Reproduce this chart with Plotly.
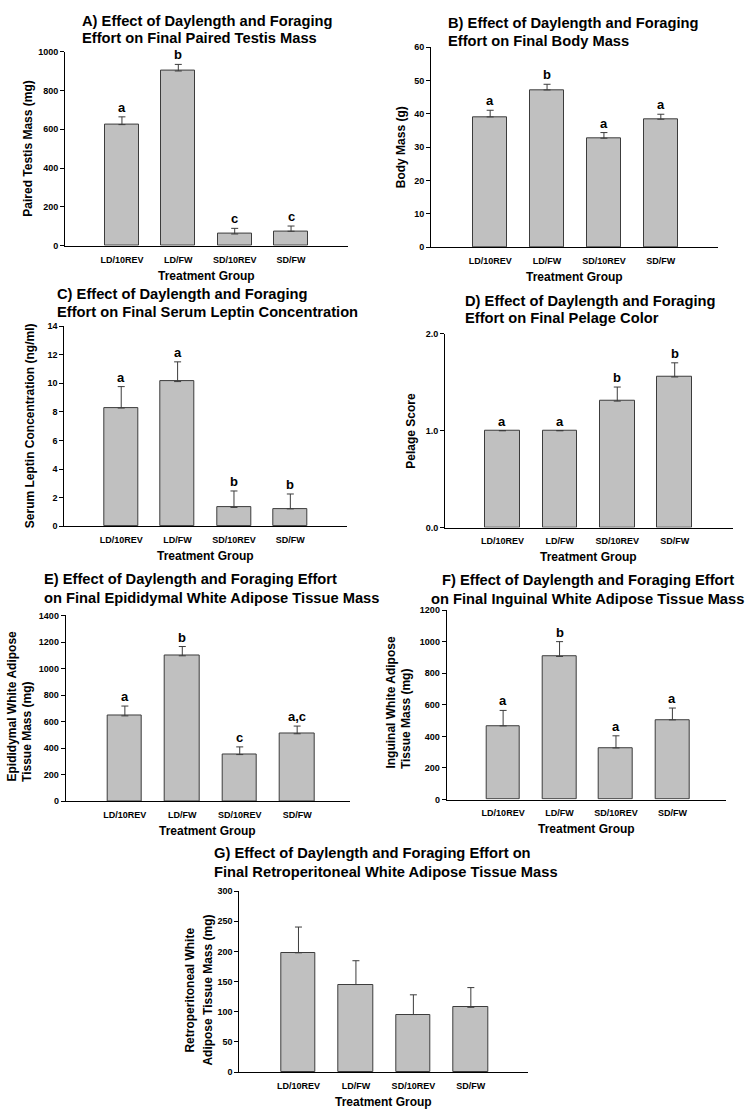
import plotly.graph_objects as go

# ---------------- data ----------------
groups = ["LD/10REV", "LD/FW", "SD/10REV", "SD/FW"]

testis_mean = [624, 900, 61, 75]
testis_sem = [40, 34, 29, 27]
testis_letters = ["a", "b", "c", "c"]

body_mean = [39.1, 47.2, 32.7, 38.4]
body_sem = [2.0, 1.7, 1.7, 1.5]
body_letters = ["a", "b", "a", "a"]

leptin_mean = [8.27, 10.12, 1.32, 1.22]
leptin_sem = [1.50, 1.38, 1.15, 1.04]
leptin_letters = ["a", "a", "b", "b"]

pelage_mean = [1.0, 1.0, 1.305, 1.554]
pelage_sem = [0.0, 0.0, 0.145, 0.146]
pelage_letters = ["a", "a", "b", "b"]

epi_mean = [643, 1096, 351, 508]
epi_sem = [74, 70, 58, 58]
epi_letters = ["a", "b", "c", "a,c"]

ing_mean = [467, 907, 327, 505]
ing_sem = [98, 94, 77, 75]
ing_letters = ["a", "b", "a", "a"]

retro_mean = [197.6, 145.0, 95.3, 107.3]
retro_sem = [42.7, 39.5, 32.7, 32.7]
retro_letters = ["", "", "", ""]

# ---------------- layout helpers ----------------
W, H = 753, 1119
FONT = "Liberation Sans, Arial, sans-serif"
BAR_FILL = "#c0c0c0"
EDGE = "#3c3c3c"
TITLE_SIZE = 14.7


def px(x):
    return x / W


def py(y):
    return 1 - y / H


# ytitle placement: (x centre of each line, y reference, anchor)
panels = [
    dict(mean=testis_mean, sem=testis_sem, letters=testis_letters,
         title=["A) Effect of Daylength and Foraging", "Effort on Final Paired Testis Mass"],
         tx=80, ty=[16, 33], talign="left",
         ytitle=["Paired Testis Mass (mg)"], ytx=[28], yty=None, ytanchor="middle",
         x0=65, x1=348, ytop=47, ybot=243, xr=[-1.01, 4.01], yr=[0, 1000], dtick=200, fmt=None),
    dict(mean=body_mean, sem=body_sem, letters=body_letters,
         title=["B) Effect of Daylength and Foraging", "Effort on Final Body Mass"],
         tx=446, ty=[18.3, 36], talign="left",
         ytitle=["Body Mass (g)"], ytx=[401], yty=None, ytanchor="middle",
         x0=431, x1=717.7, ytop=42.7, ybot=244.3, xr=[-1.04, 4.0], yr=[0, 60], dtick=10, fmt=None),
    dict(mean=leptin_mean, sem=leptin_sem, letters=leptin_letters,
         title=["C) Effect of Daylength and Foraging", "Effort on Final Serum Leptin Concentration"],
         tx=55, ty=[291.7, 310], talign="left",
         ytitle=["Serum Leptin Concentration (ng/ml)"], ytx=[30], yty=None, ytanchor="middle",
         x0=64.3, x1=346.7, ytop=324, ybot=526, xr=[-1.01, 4.0], yr=[0, 14], dtick=2, fmt=None),
    dict(mean=pelage_mean, sem=pelage_sem, letters=pelage_letters,
         title=["D) Effect of Daylength and Foraging", "Effort on Final Pelage Color"],
         tx=462.7, ty=[298.3, 316], talign="left",
         ytitle=["Pelage Score"], ytx=[411], yty=None, ytanchor="middle",
         x0=445, x1=732.7, ytop=331.7, ybot=527.3, xr=[-1.0, 4.01], yr=[0, 2], dtick=1, fmt=".1f"),
    dict(mean=epi_mean, sem=epi_sem, letters=epi_letters,
         title=["E) Effect of Daylength and Foraging Effort", "on Final Epididymal White Adipose Tissue Mass"],
         tx=41.7, ty=[579.3, 598.3], talign="left",
         ytitle=["Epididymal White Adipose", "Tissue Mass (mg)"], ytx=[12, 27], yty=786, ytanchor="bottom",
         x0=65.7, x1=350, ytop=616, ybot=803.3, xr=[-1.03, 3.92], yr=[0, 1400], dtick=200, fmt=None),
    dict(mean=ing_mean, sem=ing_sem, letters=ing_letters,
         title=["F) Effect of Daylength and Foraging Effort", "on Final Inguinal White Adipose Tissue Mass"],
         tx=587.5, ty=[580, 599.3], talign="center",
         ytitle=["Inguinal White Adipose", "Tissue Mass (mg)"], ytx=[391, 406], yty=773, ytanchor="bottom",
         x0=446.7, x1=726, ytop=610.7, ybot=801.7, xr=[-1.0, 3.95], yr=[0, 1200], dtick=200, fmt=None),
    dict(mean=retro_mean, sem=retro_sem, letters=retro_letters,
         title=["G) Effect of Daylength and Foraging Effort on", "Final Retroperitoneal White Adipose Tissue Mass"],
         tx=211.7, ty=[856, 875], talign="left",
         ytitle=["Retroperitoneal White", "Adipose Tissue Mass (mg)"], ytx=[190.5, 208.5], yty=994, ytanchor="middle",
         x0=239.3, x1=528.3, ytop=894, ybot=1076.7, xr=[-1.03, 4.0], yr=[0, 300], dtick=50, fmt=None),
]

fig = go.Figure()
annotations = []
layout_axes = {}

for i, p in enumerate(panels):
    n = i + 1
    xa = "x" if n == 1 else f"x{n}"
    ya = "y" if n == 1 else f"y{n}"
    xkey = "xaxis" if n == 1 else f"xaxis{n}"
    ykey = "yaxis" if n == 1 else f"yaxis{n}"
    xs = list(range(len(groups)))

    fig.add_trace(go.Bar(
        x=xs, y=p["mean"], xaxis=xa, yaxis=ya, width=0.6,
        marker=dict(color=BAR_FILL, line=dict(color=EDGE, width=1)),
        error_y=dict(type="data", symmetric=False, array=p["sem"],
                     arrayminus=[0] * len(xs), color=EDGE, thickness=1, width=3.5),
        showlegend=False, hoverinfo="skip",
    ))

    layout_axes[xkey] = dict(
        domain=[px(p["x0"]), px(p["x1"])], anchor=ya, range=p["xr"],
        tickmode="array", tickvals=xs, ticktext=groups,
        showline=True, linecolor="#000", linewidth=1, showgrid=False, zeroline=False,
        ticks="", ticklabelstandoff=5,
        tickfont=dict(family=FONT, size=9, color="#000", weight="bold"),
        fixedrange=True,
    )
    yax = dict(
        domain=[py(p["ybot"]), py(p["ytop"])], anchor=xa, range=p["yr"],
        dtick=p["dtick"], tick0=0,
        showline=True, linecolor="#000", linewidth=1, showgrid=False, zeroline=False,
        ticks="outside", ticklen=4, tickcolor="#000", tickwidth=1,
        tickfont=dict(family=FONT, size=9, color="#000", weight="bold"),
        fixedrange=True,
    )
    if p["fmt"]:
        yax["tickformat"] = p["fmt"]
    layout_axes[ykey] = yax

    # significance letters
    for j, lt in enumerate(p["letters"]):
        if lt:
            annotations.append(dict(
                x=j, y=p["mean"][j] + p["sem"][j], xref=xa, yref=ya,
                text=lt, showarrow=False, xanchor="center", yanchor="bottom",
                font=dict(family=FONT, size=13, color="#000", weight="bold"),
            ))

    # panel title (two lines)
    for k, line in enumerate(p["title"]):
        annotations.append(dict(
            x=px(p["tx"]), y=py(p["ty"][k]), xref="paper", yref="paper",
            text=line, showarrow=False,
            xanchor="left" if p["talign"] == "left" else "center", yanchor="middle",
            font=dict(family=FONT, size=TITLE_SIZE, color="#000", weight="bold"),
        ))

    # y-axis title
    yref_px = p["yty"] if p["yty"] is not None else (p["ytop"] + p["ybot"]) / 2
    for k, line in enumerate(p["ytitle"]):
        annotations.append(dict(
            x=px(p["ytx"][k]), y=py(yref_px), xref="paper", yref="paper",
            text=line, showarrow=False, textangle=-90,
            xanchor="center", yanchor=p["ytanchor"],
            font=dict(family=FONT, size=12, color="#000", weight="bold"),
        ))

    # x-axis title
    annotations.append(dict(
        x=px((p["x0"] + p["x1"]) / 2), y=py(p["ybot"] + 30), xref="paper", yref="paper",
        text="Treatment Group", showarrow=False, xanchor="center", yanchor="middle",
        font=dict(family=FONT, size=12, color="#000", weight="bold"),
    ))

fig.update_layout(
    width=W, height=H,
    margin=dict(l=0, r=0, t=0, b=0),
    paper_bgcolor="#fff", plot_bgcolor="#fff",
    annotations=annotations,
    bargap=0,
    **layout_axes,
)

fig.write_html(
    "out.html",
    config={"displayModeBar": False},
    post_script="document.body.style.margin='0';document.body.style.overflow='hidden';",
)
